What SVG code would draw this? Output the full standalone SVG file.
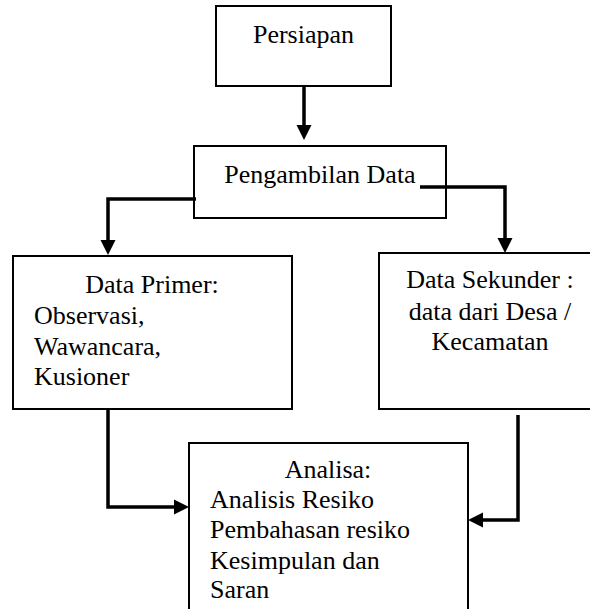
<svg xmlns="http://www.w3.org/2000/svg" width="590" height="609" viewBox="0 0 590 609">
  <style>
    .box { fill: #ffffff; stroke: #000000; stroke-width: 2; }
    .t { font-family: "Liberation Serif", "Times New Roman", serif; font-size: 26px; fill: #000000; }
    .c { text-anchor: middle; }
    .conn { fill: none; stroke: #000000; stroke-width: 3.5; stroke-linejoin: miter; }
  </style>
  <defs>
    <marker id="arrow" markerUnits="userSpaceOnUse" markerWidth="16" markerHeight="16" viewBox="0 0 16 16" refX="3" refY="8" orient="auto">
      <path d="M0,0.5 L15,8 L0,15.5 z" fill="#000000"/>
    </marker>
  </defs>
  <rect x="0" y="0" width="590" height="609" fill="#ffffff"/>

  <g id="node-persiapan">
    <rect class="box" x="216" y="6" width="175" height="80"/>
    <text class="t c" x="303.5" y="43">Persiapan</text>
  </g>

  <g id="node-pengambilan">
    <rect class="box" x="194" y="146" width="252" height="72"/>
    <text class="t c" x="320" y="183">Pengambilan Data</text>
  </g>

  <g id="node-primer">
    <rect class="box" x="13" y="256" width="279" height="153"/>
    <text class="t c" x="152" y="293">Data Primer:</text>
    <text class="t" x="34" y="324">Observasi,</text>
    <text class="t" x="34" y="355">Wawancara,</text>
    <text class="t" x="34" y="385">Kusioner</text>
  </g>

  <g id="node-sekunder">
    <rect class="box" x="379" y="253" width="215" height="156"/>
    <text class="t c" x="490" y="288">Data Sekunder :</text>
    <text class="t c" x="490" y="320">data dari Desa /</text>
    <text class="t c" x="490" y="350">Kecamatan</text>
  </g>

  <g id="node-analisa">
    <rect class="box" x="189" y="443" width="279" height="175"/>
    <text class="t c" x="328" y="478">Analisa:</text>
    <text class="t" x="210" y="508">Analisis Resiko</text>
    <text class="t" x="210" y="538">Pembahasan resiko</text>
    <text class="t" x="210" y="569">Kesimpulan dan</text>
    <text class="t" x="210" y="598">Saran</text>
  </g>

  <g id="connectors">
    <path class="conn" d="M304,86 V128" marker-end="url(#arrow)"/>
    <path class="conn" d="M196,199 H108 V243" marker-end="url(#arrow)"/>
    <path class="conn" d="M420,187 H505 V241" marker-end="url(#arrow)"/>
    <path class="conn" d="M108,409 V507 H177" marker-end="url(#arrow)"/>
    <path class="conn" d="M518,415 V520 H480" marker-end="url(#arrow)"/>
  </g>
</svg>
